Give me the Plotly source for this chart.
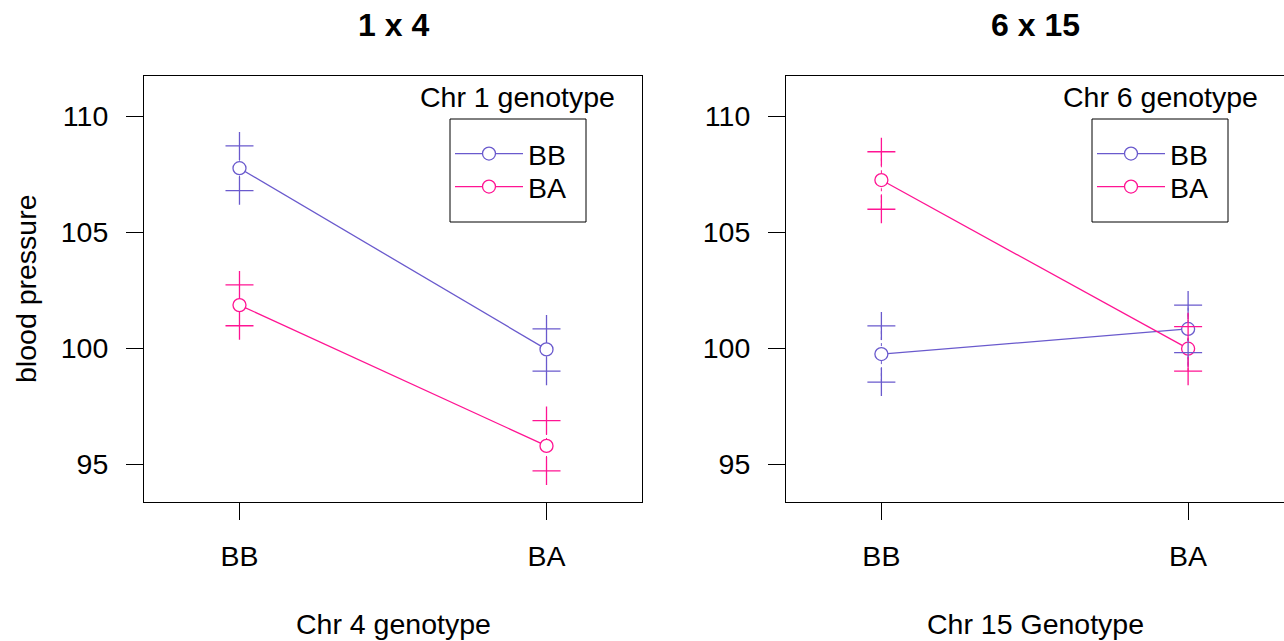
import plotly.graph_objects as go

W, H = 1284, 641

genotypes = ["BB", "BA"]

# Panel 1: cross 1 x 4 (x = Chr 4 genotype, traces = Chr 1 genotype)
p1_BB_mean = [107.75, 99.94]
p1_BB_hi = [108.71, 100.82]
p1_BB_lo = [106.78, 99.00]
p1_BA_mean = [101.85, 95.78]
p1_BA_hi = [102.72, 96.87]
p1_BA_lo = [100.96, 94.70]

# Panel 2: cross 6 x 15 (x = Chr 15 genotype, traces = Chr 6 genotype)
p2_BB_mean = [99.74, 100.82]
p2_BB_hi = [100.95, 101.85]
p2_BB_lo = [98.53, 99.80]
p2_BA_mean = [107.24, 99.97]
p2_BA_hi = [108.46, 100.92]
p2_BA_lo = [105.98, 99.00]

y_ticks = [95, 100, 105, 110]
panel_titles = ["1 x 4", "6 x 15"]
x_titles = ["Chr 4 genotype", "Chr 15 Genotype"]
legend_titles = ["Chr 1 genotype", "Chr 6 genotype"]
y_title = "blood pressure"

BLUE = "#6A5ACD"
RED = "#FF1493"
FONT = "Liberation Sans, Arial, sans-serif"
FS = 28.5


def px(x):
    return x / W


def py(y):
    return 1 - y / H


fig = go.Figure()

panels = [
    (1, ["legend", "legend2"], [(p1_BB_mean, p1_BB_hi, p1_BB_lo, BLUE, "BB"), (p1_BA_mean, p1_BA_hi, p1_BA_lo, RED, "BA")]),
    (2, ["legend3", "legend4"], [(p2_BB_mean, p2_BB_hi, p2_BB_lo, BLUE, "BB"), (p2_BA_mean, p2_BA_hi, p2_BA_lo, RED, "BA")]),
]

for idx, legs, groups in panels:
    xa = "x" if idx == 1 else "x2"
    ya = "y" if idx == 1 else "y2"
    # dotted connectors
    for mean, hi, lo, col, name in groups:
        xs, ys = [], []
        for g, h, l in zip(genotypes, hi, lo):
            xs += [g, g, None]
            ys += [l, h, None]
        fig.add_trace(go.Scatter(x=xs, y=ys, mode="lines", xaxis=xa, yaxis=ya,
                                 line=dict(color=col, width=1, dash="dot"),
                                 showlegend=False, hoverinfo="skip"))
    # mean lines with circles
    for (mean, hi, lo, col, name), leg in zip(groups, legs):
        fig.add_trace(go.Scatter(x=genotypes, y=mean, mode="lines+markers", name=name,
                                 xaxis=xa, yaxis=ya, legend=leg,
                                 line=dict(color=col, width=1.3),
                                 marker=dict(symbol="circle", size=13, color="white",
                                             line=dict(color=col, width=1.3))))
    # plus marks
    for mean, hi, lo, col, name in groups:
        fig.add_trace(go.Scatter(x=genotypes + genotypes, y=hi + lo, mode="markers",
                                 xaxis=xa, yaxis=ya, showlegend=False,
                                 marker=dict(symbol="cross-thin-open", size=20, color=col,
                                             line=dict(color=col, width=1.3))))

xr = [-0.311, 1.311]
yr = [93.362, 111.724]
ydom = [py(502), py(76)]

axis_common = dict(showline=True, linecolor="black", linewidth=1, mirror=True,
                   ticks="outside", ticklen=17, tickcolor="black", tickwidth=1,
                   showgrid=False, zeroline=False,
                   tickfont=dict(family=FONT, size=FS, color="black"))

legend_common = dict(xanchor="left", yanchor="middle", bgcolor="rgba(0,0,0,0)",
                     borderwidth=0, itemwidth=68,
                     font=dict(family=FONT, size=FS, color="black"))

fig.update_layout(
    width=W, height=H, autosize=False,
    margin=dict(l=0, r=0, t=0, b=0),
    paper_bgcolor="white", plot_bgcolor="white",
    font=dict(family=FONT, size=FS, color="black"),
    xaxis=dict(domain=[px(144), px(642)], range=xr, type="category", anchor="y",
               ticklabelstandoff=12, **axis_common),
    yaxis=dict(domain=ydom, range=yr, tickvals=y_ticks, anchor="x",
               ticklabelstandoff=12, **axis_common),
    xaxis2=dict(domain=[px(786), px(1283.5)], range=xr, type="category", anchor="y2",
                ticklabelstandoff=12, **axis_common),
    yaxis2=dict(domain=ydom, range=yr, tickvals=y_ticks, anchor="x2",
                ticklabelstandoff=12, **axis_common),
    legend=dict(x=px(450), y=py(154), **legend_common),
    legend2=dict(x=px(450), y=py(187), **legend_common),
    legend3=dict(x=px(1092), y=py(154), **legend_common),
    legend4=dict(x=px(1092), y=py(187), **legend_common),
    showlegend=True,
)

# legend boxes
for x0, x1 in [(450, 586), (1092, 1228)]:
    fig.add_shape(type="rect", xref="paper", yref="paper",
                  x0=px(x0), x1=px(x1), y0=py(222), y1=py(119),
                  line=dict(color="black", width=1), fillcolor="rgba(0,0,0,0)")

annotations = []
for cx, t in zip([393, 1035], panel_titles):
    annotations.append(dict(x=px(cx), y=py(25), xref="paper", yref="paper", text="<b>%s</b>" % t,
                            showarrow=False, xanchor="center", yanchor="middle",
                            font=dict(family=FONT, size=32, color="black")))
for cx, t in zip([393, 1035], x_titles):
    annotations.append(dict(x=px(cx), y=py(624), xref="paper", yref="paper", text=t,
                            showarrow=False, xanchor="center", yanchor="middle",
                            font=dict(family=FONT, size=FS, color="black")))
for cx, t in zip([517.5, 1160], legend_titles):
    annotations.append(dict(x=px(cx), y=py(97), xref="paper", yref="paper", text=t,
                            showarrow=False, xanchor="center", yanchor="middle",
                            font=dict(family=FONT, size=FS, color="black")))
annotations.append(dict(x=px(26), y=py(289), xref="paper", yref="paper", text=y_title,
                        showarrow=False, textangle=-90, xanchor="center", yanchor="middle",
                        font=dict(family=FONT, size=FS, color="black")))
fig.update_layout(annotations=annotations)

fig.write_html("out.html")
